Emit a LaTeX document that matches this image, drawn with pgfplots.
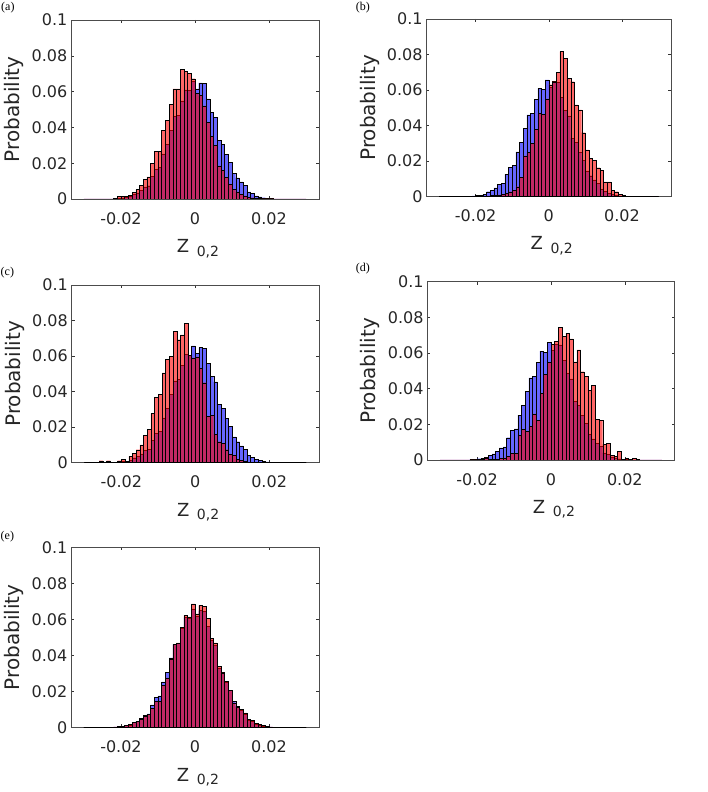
\documentclass[border=0pt]{standalone}
\usepackage{pgfplots}
\pgfplotsset{compat=1.18}
\usepackage{pgfplotstable}
\usepackage{fontspec}
\setmainfont{DejaVu Sans}
\newfontfamily\seriffont{Liberation Serif}
\newcommand\tfont{\fontsize{16bp}{19bp}\selectfont}
\newcommand\lfont{\fontsize{20bp}{24bp}\selectfont}
\newcommand\zfont{\fontsize{18bp}{22bp}\selectfont}
\newcommand\sfont{\fontsize{14bp}{17bp}\selectfont}
\newcommand\pfont{\seriffont\fontsize{12bp}{14bp}\selectfont}

% reference distribution (blue), bin left edges
\pgfplotstableread{
x y
-0.030 0
-0.029 0
-0.028 0
-0.027 0
-0.026 0
-0.025 0
-0.024 0
-0.023 0.0001
-0.022 0.0003
-0.021 0.0005
-0.020 0.0007
-0.019 0.0009
-0.018 0.0013
-0.017 0.0028
-0.016 0.0034
-0.015 0.0050
-0.014 0.0068
-0.013 0.0074
-0.012 0.0125
-0.011 0.0165
-0.010 0.0175
-0.009 0.0252
-0.008 0.0305
-0.007 0.0385
-0.006 0.0460
-0.005 0.0468
-0.004 0.0548
-0.003 0.0610
-0.002 0.0605
-0.001 0.0658
0.000 0.0615
0.001 0.0648
0.002 0.0645
0.003 0.0560
0.004 0.0485
0.005 0.0455
0.006 0.0328
0.007 0.0305
0.008 0.0250
0.009 0.0205
0.010 0.0145
0.011 0.0118
0.012 0.0095
0.013 0.0075
0.014 0.0040
0.015 0.0032
0.016 0.0018
0.017 0.0012
0.018 0.0007
0.019 0.0004
0.020 0.0002
0.021 0.0001
0.022 0
0.023 0
0.024 0
0.025 0
0.026 0
0.027 0
0.028 0
0.029 0
0.030 0
}\blueref

\pgfplotstableread{
x y
-0.030 0
-0.029 0
-0.028 0
-0.027 0
-0.026 0
-0.025 0
-0.024 0
-0.023 0.0001
-0.022 0.0002
-0.021 0.0013
-0.020 0.0013
-0.019 0.0013
-0.018 0.0022
-0.017 0.0038
-0.016 0.0052
-0.015 0.0075
-0.014 0.0108
-0.013 0.0123
-0.012 0.0201
-0.011 0.0267
-0.010 0.0268
-0.009 0.0385
-0.008 0.0440
-0.007 0.0527
-0.006 0.0615
-0.005 0.0615
-0.004 0.0723
-0.003 0.0713
-0.002 0.0700
-0.001 0.0672
0.000 0.0590
0.001 0.0578
0.002 0.0520
0.003 0.0430
0.004 0.0350
0.005 0.0300
0.006 0.0185
0.007 0.0160
0.008 0.0120
0.009 0.0080
0.010 0.0055
0.011 0.0040
0.012 0.0024
0.013 0.0018
0.014 0.0010
0.015 0.0007
0.016 0.0003
0.017 0.0002
0.018 0.0001
0.019 0
0.020 0
0.021 0
0.022 0
0.023 0
0.024 0
0.025 0
0.026 0
0.027 0
0.028 0
0.029 0
0.030 0
}\reda

\pgfplotstableread{
x y
-0.030 0
-0.029 0
-0.028 0
-0.027 0
-0.026 0
-0.025 0
-0.024 0
-0.023 0
-0.022 0
-0.021 0
-0.020 0.0001
-0.019 0.0002
-0.018 0.0003
-0.017 0.0005
-0.016 0.0006
-0.015 0.0008
-0.014 0.0010
-0.013 0.0014
-0.012 0.0020
-0.011 0.0028
-0.010 0.0036
-0.009 0.0056
-0.008 0.0110
-0.007 0.0230
-0.006 0.0250
-0.005 0.0300
-0.004 0.0380
-0.003 0.0470
-0.002 0.0462
-0.001 0.0550
0.000 0.0630
0.001 0.0647
0.002 0.0700
0.003 0.0816
0.004 0.0778
0.005 0.0666
0.006 0.0647
0.007 0.0516
0.008 0.0488
0.009 0.0360
0.010 0.0263
0.011 0.0216
0.012 0.0206
0.013 0.0163
0.014 0.0150
0.015 0.0084
0.016 0.0084
0.017 0.0034
0.018 0.0028
0.019 0.0015
0.020 0.0009
0.021 0.0003
0.022 0.0001
0.023 0
0.024 0
0.025 0
0.026 0
0.027 0
0.028 0
0.029 0
0.030 0
}\redb

\pgfplotstableread{
x y
-0.030 0
-0.029 0
-0.028 0
-0.027 0
-0.026 0.0011
-0.025 0.0002
-0.024 0.0011
-0.023 0.0002
-0.022 0.0003
-0.021 0.0011
-0.020 0.0017
-0.019 0.0009
-0.018 0.0036
-0.017 0.0054
-0.016 0.0073
-0.015 0.0100
-0.014 0.0154
-0.013 0.0186
-0.012 0.0276
-0.011 0.0368
-0.010 0.0383
-0.009 0.0505
-0.008 0.0580
-0.007 0.0598
-0.006 0.0739
-0.005 0.0692
-0.004 0.0720
-0.003 0.0786
-0.002 0.0605
-0.001 0.0590
0.000 0.0595
0.001 0.0530
0.002 0.0450
0.003 0.0260
0.004 0.0265
0.005 0.0160
0.006 0.0118
0.007 0.0110
0.008 0.0073
0.009 0.0045
0.010 0.0041
0.011 0.0018
0.012 0.0012
0.013 0.0008
0.014 0.0003
0.015 0.0001
0.016 0
0.017 0
0.018 0
0.019 0
0.020 0
0.021 0
0.022 0
0.023 0
0.024 0
0.025 0
0.026 0
0.027 0
0.028 0
0.029 0
0.030 0
}\redc

\pgfplotstableread{
x y
-0.030 0
-0.029 0
-0.028 0
-0.027 0
-0.026 0
-0.025 0
-0.024 0
-0.023 0
-0.022 0
-0.021 0.0001
-0.020 0.0002
-0.019 0.0003
-0.018 0.0012
-0.017 0.0003
-0.016 0.0005
-0.015 0.0005
-0.014 0.0008
-0.013 0.0012
-0.012 0.0022
-0.011 0.0037
-0.010 0.0037
-0.009 0.0140
-0.008 0.0172
-0.007 0.0159
-0.006 0.0187
-0.005 0.0258
-0.004 0.0224
-0.003 0.0374
-0.002 0.0480
-0.001 0.0546
0.000 0.0648
0.001 0.0664
0.002 0.0744
0.003 0.0695
0.004 0.0710
0.005 0.0680
0.006 0.0550
0.007 0.0617
0.008 0.0495
0.009 0.0470
0.010 0.0390
0.011 0.0420
0.012 0.0228
0.013 0.0224
0.014 0.0088
0.015 0.0093
0.016 0.0028
0.017 0.0022
0.018 0.0047
0.019 0.0003
0.020 0.0011
0.021 0.0002
0.022 0.0011
0.023 0.0002
0.024 0
0.025 0
0.026 0
0.027 0
0.028 0
0.029 0
0.030 0
}\redd

\pgfplotstableread{
x y
-0.030 0
-0.029 0
-0.028 0
-0.027 0
-0.026 0
-0.025 0
-0.024 0
-0.023 0.0001
-0.022 0.0002
-0.021 0.0004
-0.020 0.0007
-0.019 0.0009
-0.018 0.0015
-0.017 0.0026
-0.016 0.0033
-0.015 0.0043
-0.014 0.0061
-0.013 0.0070
-0.012 0.0107
-0.011 0.0144
-0.010 0.0144
-0.009 0.0233
-0.008 0.0274
-0.007 0.0376
-0.006 0.0459
-0.005 0.0469
-0.004 0.0556
-0.003 0.0622
-0.002 0.0613
-0.001 0.0685
0.000 0.0630
0.001 0.0678
0.002 0.0672
0.003 0.0604
0.004 0.0493
0.005 0.0469
0.006 0.0339
0.007 0.0302
0.008 0.0256
0.009 0.0206
0.010 0.0136
0.011 0.0110
0.012 0.0098
0.013 0.0080
0.014 0.0043
0.015 0.0037
0.016 0.0022
0.017 0.0015
0.018 0.0009
0.019 0.0006
0.020 0.0003
0.021 0.0001
0.022 0
0.023 0
0.024 0
0.025 0
0.026 0
0.027 0
0.028 0
0.029 0
0.030 0
}\rede

\pgfplotsset{
  histaxis/.style={
    scale only axis,
    anchor=south west,
    xmin=-0.0335, xmax=0.0335, ymin=0, ymax=0.1,
    xtick={-0.02,0,0.02}, xticklabels={-0.02,0,0.02},
    ytick={0,0.02,0.04,0.06,0.08,0.1},
    yticklabels={0,0.02,0.04,0.06,0.08,0.1},
    scaled ticks=false,
    tick align=inside,
    xtick pos=both, ytick pos=both,
    major tick length=3bp,
    tick style={black!80, line width=0.5bp},
    axis line style={black!70, line width=0.5bp},
    ticklabel style={font=\tfont, text=black!85},
    xticklabel style={inner sep=0pt, anchor=north},
    xticklabel shift=13bp,
    yticklabel style={inner sep=0pt, anchor=east},
    yticklabel shift=3.5bp,
    ylabel={Probability},
    ylabel style={font=\lfont, text=black!85, at={(axis description cs:-0.19,0.5)}, anchor=south, inner sep=0pt},
    xlabel={Z\hspace{7.5bp}\raisebox{-3.5bp}{\sfont 0,2}},
    xlabel style={font=\zfont, text=black!85, at={(axis description cs:0.512,-0.225)}, anchor=north, inner sep=0pt},
  },
  bluebars/.style={ybar interval, fill=blue, fill opacity=0.6, draw=black, line width=0.4bp},
  redbars/.style={ybar interval, fill=red, fill opacity=0.6, draw=black, line width=0.4bp},
}

\begin{document}
\begin{tikzpicture}
\useasboundingbox (0,0) rectangle (708bp,792bp);

\node[anchor=base west, inner sep=0pt, font=\pfont] at (1bp,781.8bp) {(a)};
\node[anchor=base west, inner sep=0pt, font=\pfont] at (355.7bp,781.8bp) {(b)};
\node[anchor=base west, inner sep=0pt, font=\pfont] at (0.5bp,516bp) {(c)};
\node[anchor=base west, inner sep=0pt, font=\pfont] at (355.7bp,520bp) {(d)};
\node[anchor=base west, inner sep=0pt, font=\pfont] at (0.5bp,252.5bp) {(e)};

\begin{axis}[histaxis, at={(71bp,593bp)}, width=248bp, height=179bp]
\addplot[bluebars] table[x=x,y=y] {\blueref};
\addplot[redbars] table[x=x,y=y] {\reda};
\end{axis}

\begin{axis}[histaxis, at={(426.3bp,595.3bp)}, width=245bp, height=177.7bp]
\addplot[bluebars] table[x=x,y=y] {\blueref};
\addplot[redbars] table[x=x,y=y] {\redb};
\end{axis}

\begin{axis}[histaxis, at={(71.5bp,329.3bp)}, width=247.5bp, height=177.7bp]
\addplot[bluebars] table[x=x,y=y] {\blueref};
\addplot[redbars] table[x=x,y=y] {\redc};
\end{axis}

\begin{axis}[histaxis, at={(427.3bp,332bp)}, width=247.4bp, height=178.3bp]
\addplot[bluebars] table[x=x,y=y] {\blueref};
\addplot[redbars] table[x=x,y=y] {\redd};
\end{axis}

\begin{axis}[histaxis, at={(71bp,64.7bp)}, width=248bp, height=180bp]
\addplot[bluebars] table[x=x,y=y] {\blueref};
\addplot[redbars] table[x=x,y=y] {\rede};
\end{axis}
\end{tikzpicture}
\end{document}
